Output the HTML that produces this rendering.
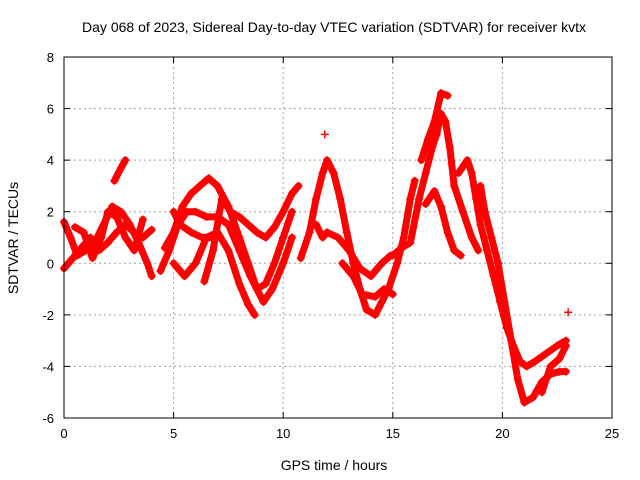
<!DOCTYPE html>
<html><head><meta charset="utf-8"><style>
html,body{margin:0;padding:0;background:#fff;}
svg{display:block;font-family:"Liberation Sans",sans-serif;}
</style></head><body>
<svg id="chart" width="640" height="480">
<text x="334" y="32" font-size="14" text-anchor="middle">Day 068 of 2023, Sidereal Day-to-day VTEC variation (SDTVAR) for receiver kvtx</text>
<text x="334" y="470" font-size="14" text-anchor="middle">GPS time / hours</text>
<text transform="translate(18,238) rotate(-90)" font-size="14" text-anchor="middle">SDTVAR / TECUs</text>
<g id="grid"></g>
<g id="axes"></g>
<g id="marks"></g>
<rect x="64" y="57" width="548" height="361" fill="none" stroke="#000" stroke-width="1"/>
</svg>
<script>
const xTicks=[0,5,10,15,20,25];
const yTicks=[-6,-4,-2,0,2,4,6,8];
const track1=[[0,1.6],[0.3,1.0],[0.6,0.3],[1.0,0.5],[1.4,0.8],[1.8,1.5],[2.2,2.2],[2.6,2.0],[3.0,1.5],[3.4,0.8],[3.8,0],[4.0,-0.5]];
const track2=[[0,-0.2],[0.4,0.2],[0.8,0.6],[1.2,1.0],[1.6,0.5],[2.0,0.8],[2.4,1.2],[2.8,1.5],[3.2,1.2],[3.6,1.0],[4.0,1.3]];
const track2b=[[0.5,1.4],[0.9,1.2],[1.3,0.2],[1.7,1.0],[2.0,2.0],[2.4,1.8],[2.8,1.0],[3.2,0.5],[3.6,1.7]];
const track3=[[2.3,3.2],[2.6,3.7],[2.8,4.0]];
const track4=[[4.4,-0.3],[4.8,0.5],[5.2,1.5],[5.6,2.0],[6.0,2.0],[6.5,1.8],[7.0,1.8],[7.5,1.5],[8.0,0.5],[8.5,-0.5],[8.8,-1.0],[9.2,-0.8],[9.6,0],[10.0,1.0],[10.4,2.0]];
const track5=[[4.6,0.6],[5.0,1.2],[5.4,2.2],[5.8,2.7],[6.2,3.0],[6.6,3.3],[7.0,3.0],[7.5,2.2],[8.0,1.0],[8.4,0],[8.8,-1.0],[9.1,-1.5],[9.5,-1.0],[10.0,0],[10.4,1.0]];
const track6=[[5.0,0],[5.5,-0.5],[6.0,0],[6.5,1.0],[7.0,1.2],[7.5,0.5],[8.0,-0.8],[8.4,-1.6],[8.7,-2.0]];
const track7=[[6.4,-0.7],[6.8,0.5],[7.2,2.5],[7.6,2.0],[8.0,1.8],[8.4,1.5],[8.8,1.2],[9.2,1.0],[9.6,1.4],[10.0,2.0],[10.4,2.7],[10.7,3.0]];
const track8=[[5.0,2.0],[5.3,1.5],[5.8,1.2],[6.3,1.0],[6.8,1.0]];
const track9=[[10.8,0.2],[11.2,1.2],[11.5,2.5],[11.8,3.5],[12.0,4.0],[12.3,3.5],[12.6,2.5],[12.9,1.2],[13.2,0],[13.5,-1.0],[13.8,-1.8],[14.2,-2.0],[14.5,-1.5],[14.8,-1.0],[15.2,0],[15.5,1.0],[15.8,2.5],[16.0,3.2]];
const track10=[[11.5,1.5],[11.8,1.0],[12.0,1.2],[12.5,1.0],[13.0,0.5],[13.5,-0.2],[14.0,-0.5],[14.5,0],[14.9,0.3]];
const track11=[[12.7,0],[13.2,-0.5],[13.6,-1.2],[14.2,-1.3],[14.6,-1.0],[15.0,-1.2]];
const track12=[[15.0,0.3],[15.4,0.6],[15.8,0.8],[16.2,2.5],[16.5,3.5],[16.8,4.5],[17.0,5.0],[17.2,5.8],[17.4,5.5],[17.6,4.5],[17.8,3.0],[18.2,2.0],[18.6,1.0],[18.9,0.5]];
const track13=[[16.3,4.0],[16.6,4.8],[16.9,5.5],[17.2,6.6],[17.5,6.5]];
const track14=[[16.5,2.3],[16.9,2.8],[17.2,2.2],[17.5,1.2],[17.8,0.5],[18.1,0.3]];
const track15=[[18.0,3.5],[18.4,4.0],[18.6,3.5],[18.8,2.5],[19.0,1.5],[19.3,0.5],[19.6,-0.5],[19.9,-1.5],[20.2,-2.5],[20.5,-3.2],[20.8,-3.8],[21.1,-4.0],[21.5,-3.8],[22.0,-3.5],[22.5,-3.2],[22.9,-3.0]];
const track16=[[19.0,3.0],[19.2,2.0],[19.5,1.0],[19.8,0],[20.1,-1.5],[20.4,-3.0],[20.7,-4.5],[21.0,-5.4],[21.4,-5.2],[21.8,-4.6],[22.2,-4.3],[22.6,-4.2],[22.9,-4.2]];
const track17=[[21.8,-5.0],[22.2,-4.0],[22.6,-3.7],[22.9,-3.2]];
const isolated=[[11.9,5.0],[23.0,-1.9]];
const tracks=[track1,track2,track2b,track3,track4,track5,track6,track7,track8,track9,track10,track11,track12,track13,track14,track15,track16,track17];

const NS="http://www.w3.org/2000/svg";
const X0=64,X1=612,Y0=418,Y1=57;
const xs=h=>X0+(h-0)/(25-0)*(X1-X0);
const ys=v=>Y0-(v+6)/(14)*(Y0-Y1);
function mk(tag,attrs,parent){const e=document.createElementNS(NS,tag);for(const k in attrs)e.setAttribute(k,attrs[k]);parent.appendChild(e);return e;}
const grid=document.getElementById('grid'),axes=document.getElementById('axes'),marks=document.getElementById('marks');
xTicks.forEach(t=>{
  const x=xs(t);
  if(t>0&&t<25){const g=mk('line',{x1:x,x2:x,y1:Y1,y2:Y0,stroke:'#a0a0a0','stroke-dasharray':'2,3'},grid);
  
  }
  mk('line',{x1:x,x2:x,y1:Y0,y2:Y0-6,stroke:'#000'},axes);
  mk('line',{x1:x,x2:x,y1:Y1,y2:Y1+6,stroke:'#000'},axes);
  const tx=mk('text',{x:x,y:Y0+20,'font-size':13,'text-anchor':'middle'},axes);tx.textContent=t;
  
  
});
yTicks.forEach(t=>{
  const y=ys(t);
  if(t>-6&&t<8){const g=mk('line',{x1:X0,x2:X1,y1:y,y2:y,stroke:'#a0a0a0','stroke-dasharray':'2,3'},grid);
  
  }
  mk('line',{x1:X0,x2:X0+6,y1:y,y2:y,stroke:'#000'},axes);
  mk('line',{x1:X1,x2:X1-6,y1:y,y2:y,stroke:'#000'},axes);
  const tx=mk('text',{x:X0-10,y:y+5,'font-size':13,'text-anchor':'end'},axes);tx.textContent=t;
  
  
});
function plus(h,v){const x=xs(h),y=ys(v);
  const p=mk('path',{d:`M${x-4},${y}H${x+4}M${x},${y-4}V${y+4}`,stroke:'#f00','stroke-width':1.5},marks);
  
  }
tracks.forEach(tr=>{
  const pl=mk('polyline',{points:tr.map(p=>xs(p[0])+','+ys(p[1])).join(' '),fill:'none',stroke:'#f00','stroke-width':7,'stroke-linejoin':'round','stroke-linecap':'round'},marks);
  
  
  tr.forEach(p=>plus(p[0],p[1]));
});
isolated.forEach(p=>plus(p[0],p[1]));
</script>
</body></html>
